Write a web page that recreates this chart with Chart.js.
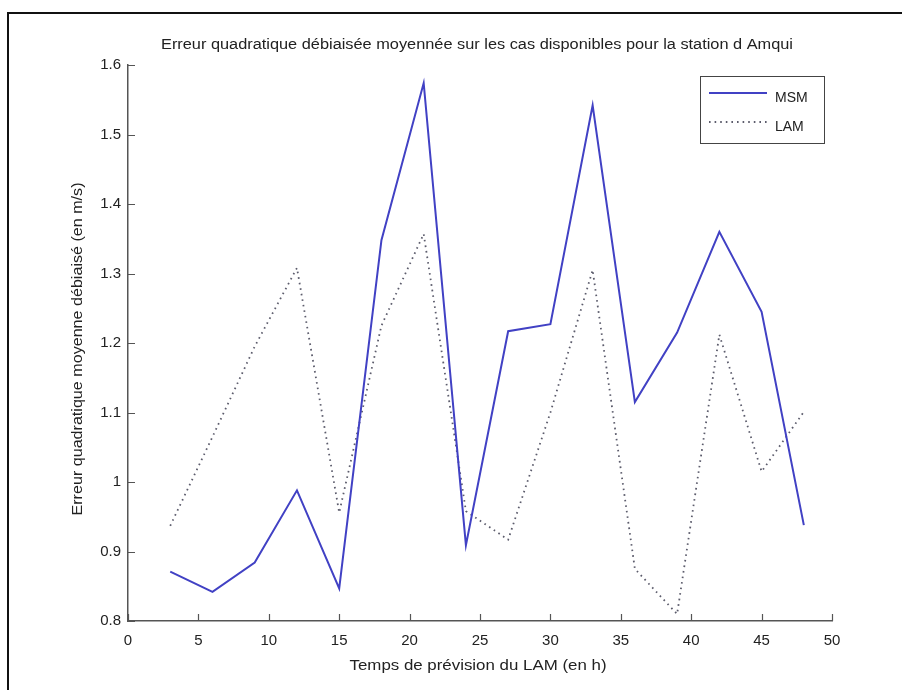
<!DOCTYPE html>
<html>
<head>
<meta charset="utf-8">
<script src="https://cdn.jsdelivr.net/npm/chart.js@4.4.1/dist/chart.umd.min.js"></script>
<style>
  html, body { margin: 0; padding: 0; background: #fff; overflow: hidden; }
  #wrap { position: relative; width: 902px; height: 690px; }
  #frame { position: absolute; left: 7px; top: 12px; width: 1000px; height: 1000px; border: 2px solid #111; }
  #chart { position: absolute; left: 0; top: 0; }
</style>
</head>
<body>
<div id="wrap">
  <div id="frame"></div>
  <canvas id="chart" width="902" height="690"></canvas>
</div>
<script>
// forecast hours (x)
const hours = [3, 6, 9, 12, 15, 18, 21, 24, 27, 30, 33, 36, 39, 42, 45, 48];
// MSM series (solid)
const msm = [0.871, 0.842, 0.884, 0.988, 0.847, 1.348, 1.574, 0.909, 1.217, 1.227, 1.542, 1.115, 1.215, 1.360, 1.245, 0.938];
// LAM series (dotted)
const lam = [0.937, 1.065, 1.195, 1.308, 0.956, 1.225, 1.357, 0.958, 0.917, 1.100, 1.305, 0.875, 0.810, 1.212, 1.015, 1.101];

const xTicks = [0, 5, 10, 15, 20, 25, 30, 35, 40, 45, 50];
const yTicks = [0.8, 0.9, 1.0, 1.1, 1.2, 1.3, 1.4, 1.5, 1.6];

const titleText = "Erreur quadratique débiaisée moyennée sur les cas disponibles pour la station d Amqui";
const xTitle = "Temps de prévision du LAM (en h)";
const yTitle = "Erreur quadratique moyenne débiaisé (en m/s)";

const FONT = "'Liberation Sans', Arial, sans-serif";
const TEXT = "#222";

// draw text stretched/squeezed to a given width (matlab text looks wider)
function fitText(ctx, text, cx, cy, width, size, angle) {
    ctx.save();
    ctx.font = size + "px " + FONT;
    ctx.fillStyle = TEXT;
    ctx.textAlign = "center";
    ctx.textBaseline = "middle";
    const w = ctx.measureText(text).width;
    ctx.translate(cx, cy);
    if (angle) ctx.rotate(angle);
    ctx.scale(width / w, 1);
    ctx.fillText(text, 0, 0);
    ctx.restore();
}

const decorPlugin = {
    id: "decor",
    afterDraw(chart) {
        const ctx = chart.ctx;
        const area = chart.chartArea;
        const xs = chart.scales.x, ys = chart.scales.y;

        // inward tick marks
        ctx.save();
        ctx.strokeStyle = "#555";
        ctx.lineWidth = 1.2;
        ctx.beginPath();
        xTicks.forEach(v => {
            const px = Math.round(xs.getPixelForValue(v)) + 0.5;
            ctx.moveTo(px, area.bottom);
            ctx.lineTo(px, area.bottom - 7);
        });
        yTicks.forEach(v => {
            const py = Math.round(ys.getPixelForValue(v)) + 0.5;
            ctx.moveTo(area.left, py);
            ctx.lineTo(area.left + 7, py);
        });
        ctx.stroke();
        ctx.restore();

        // titles
        fitText(ctx, titleText, 477, 45, 632, 14);
        fitText(ctx, xTitle, 478, 666, 257, 14);
        fitText(ctx, yTitle, 78, 349, 333, 14, -Math.PI / 2);

        // legend box
        const lx = area.right - 132, ly = area.top + 11, lw = 124, lh = 67;
        ctx.save();
        ctx.fillStyle = "#fff";
        ctx.fillRect(lx, ly, lw, lh);
        ctx.strokeStyle = "#444";
        ctx.lineWidth = 1;
        ctx.strokeRect(lx + 0.5, ly + 0.5, lw, lh);
        chart.data.datasets.forEach((ds, i) => {
            const y = ly + 17 + i * 29;
            ctx.strokeStyle = ds.borderColor;
            ctx.lineWidth = ds.borderWidth;
            ctx.setLineDash(ds.borderDash || []);
            ctx.beginPath();
            ctx.moveTo(lx + 9, y);
            ctx.lineTo(lx + 67, y);
            ctx.stroke();
            ctx.setLineDash([]);
            ctx.font = "14px " + FONT;
            ctx.fillStyle = TEXT;
            ctx.textAlign = "left";
            ctx.textBaseline = "middle";
            ctx.fillText(ds.label, lx + 75, y + 5);
        });
        ctx.restore();
    }
};

const ctx = document.getElementById("chart").getContext("2d");
const chart = new Chart(ctx, {
    type: "line",
    data: {
        datasets: [{
            label: "MSM",
            data: hours.map((h, i) => ({ x: h, y: msm[i] })),
            borderColor: "#4141c4",
            borderWidth: 2,
            pointRadius: 0,
            fill: false,
            tension: 0
        }, {
            label: "LAM",
            data: hours.map((h, i) => ({ x: h, y: lam[i] })),
            borderColor: "#5c5c6c",
            borderWidth: 1.8,
            borderDash: [1.6, 4],
            pointRadius: 0,
            fill: false,
            tension: 0
        }]
    },
    options: {
        responsive: false,
        animation: false,
        events: [],
        layout: { padding: { top: 65, right: 70, left: 0, bottom: 0 } },
        plugins: {
            legend: { display: false },
            title: { display: false },
            tooltip: { enabled: false }
        },
        scales: {
            x: {
                type: "linear",
                min: 0,
                max: 50,
                afterBuildTicks: s => { s.ticks = xTicks.map(v => ({ value: v })); },
                afterFit: s => { s.height = 69; },
                grid: { drawOnChartArea: false, drawTicks: false },
                border: { color: "#555", width: 1.5 },
                ticks: {
                    padding: 11,
                    color: TEXT,
                    font: { family: FONT, size: 15 },
                    maxRotation: 0,
                    callback: v => String(v)
                }
            },
            y: {
                type: "linear",
                min: 0.8,
                max: 1.6,
                afterBuildTicks: s => { s.ticks = yTicks.map(v => ({ value: v })); },
                afterFit: s => { s.width = 128; },
                grid: { drawOnChartArea: false, drawTicks: false },
                border: { color: "#555", width: 1.5 },
                ticks: {
                    padding: 7,
                    color: TEXT,
                    font: { family: FONT, size: 15 },
                    callback: v => String(+v.toFixed(1))
                }
            }
        }
    },
    plugins: [decorPlugin]
});
</script>
</body>
</html>
